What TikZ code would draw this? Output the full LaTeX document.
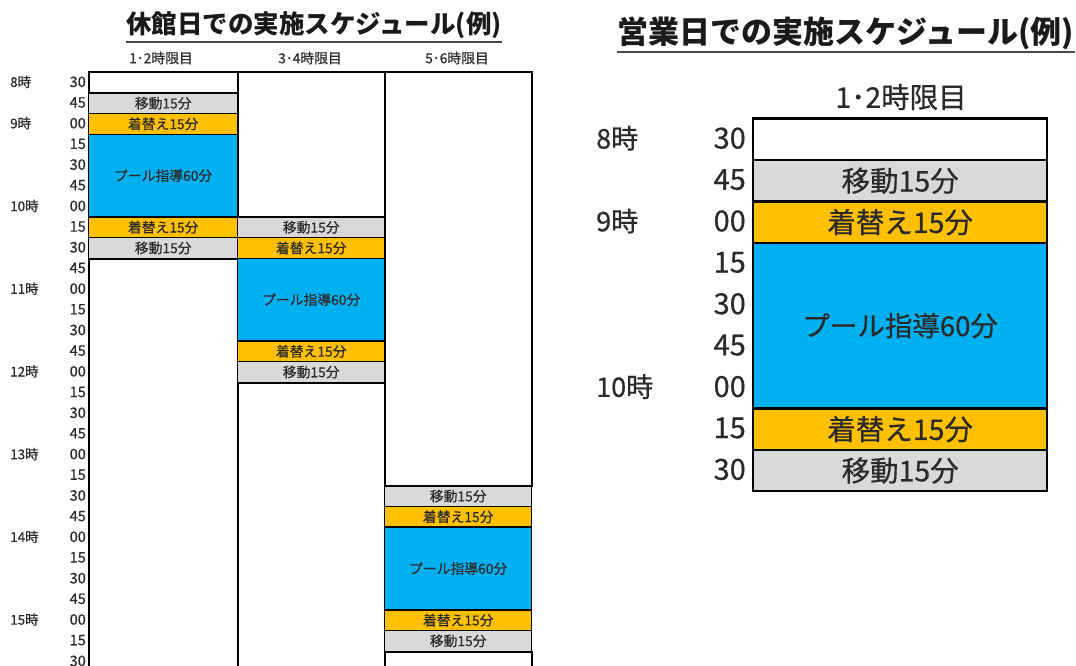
\documentclass[tikz,border=0pt]{standalone}
\usepackage{fontspec}
\setmainfont{Noto Sans CJK JP}
\newfontfamily\jpheavy{Noto Sans CJK JP}[FakeBold=0.5]
\definecolor{cgray}{HTML}{D9D9D9}
\definecolor{corange}{HTML}{FFC000}
\definecolor{cblue}{HTML}{00B0F0}
\definecolor{ctext}{HTML}{2A2A2A}
\definecolor{ctitle}{HTML}{1A1A1A}
\tikzset{
  cellbox/.style={draw=black, line width=1.4pt, inner sep=0pt, anchor=north west, text=ctext},
  whitebox/.style={cellbox, fill=white, line width=2pt},
  graybox/.style={cellbox, fill=cgray},
  orangebox/.style={cellbox, fill=corange},
  bluebox/.style={cellbox, fill=cblue},
  rthick/.style={line width=2.3pt},
  lfont/.style={font=\jpheavy\fontsize{13.8}{13.8}\selectfont},
  rfont/.style={font=\jpheavy\fontsize{28.5}{28.5}\selectfont},
  lminute/.style={font=\jpheavy\fontsize{14.5}{14.5}\selectfont, text=ctext, anchor=east, inner sep=0pt},
  lhour/.style={font=\jpheavy\fontsize{13.5}{13.5}\selectfont, text=ctext, anchor=west, inner sep=0pt},
  rminute/.style={font=\jpheavy\fontsize{29}{29}\selectfont, text=ctext, anchor=east, inner sep=0pt},
  rhour/.style={font=\jpheavy\fontsize{27}{27}\selectfont, text=ctext, anchor=west, inner sep=0pt},
  titlestyle/.style={text=ctitle, inner sep=0pt},
  uline/.style={line width=2pt, draw=ctitle!80}
}
\newcommand\lcell[7]{%
  \pgfmathsetmacro\ytop{71.5+#4*20.68}\pgfmathsetmacro\hgt{#5*20.68}%
  \node[#6, lfont, minimum width=#3pt, minimum height=\hgt pt] (#1) at (#2,\ytop) {#7};}
\newcommand\rcell[7]{%
  \pgfmathsetmacro\ytop{117.5+#4*41.4}\pgfmathsetmacro\hgt{#5*41.4}%
  \node[#6, rthick, rfont, minimum width=#3pt, minimum height=\hgt pt] (#1) at (#2,\ytop) {#7};}
\begin{document}
\begin{tikzpicture}[x=1pt,y=-1pt]
\useasboundingbox[fill=white] (0,0) rectangle (1076,666);
% titles
\node[titlestyle, font=\fontsize{25.5}{25.5}\selectfont\bfseries] (t1) at (314,25) {休館日での実施スケジュール(例)};
\draw[uline] ([yshift=-3pt]t1.south west) -- ([yshift=-3pt]t1.south east);
\node[titlestyle, font=\fontsize{31}{31}\selectfont\bfseries] (t2) at (846,33) {営業日での実施スケジュール(例)};
\draw[uline] ([yshift=-2pt]t2.south west) -- ([yshift=-2pt]t2.south east);
% left headers
\node[lfont, text=ctext] (hA) at (161,58) {1･2時限目};
\node[lfont, text=ctext] (hB) at (310,58) {3･4時限目};
\node[lfont, text=ctext] (hC) at (457,58) {5･6時限目};
% left column 1
\lcell{a1}{88}{149}{0}{1}{whitebox}{}
\lcell{a2}{88}{149}{1}{1}{graybox}{移動15分}
\lcell{a3}{88}{149}{2}{1}{orangebox}{着替え15分}
\lcell{a4}{88}{149}{3}{4}{bluebox}{プール指導60分}
\lcell{a5}{88}{149}{7}{1}{orangebox}{着替え15分}
\lcell{a6}{88}{149}{8}{1}{graybox}{移動15分}
\lcell{a7}{88}{149}{9}{22}{whitebox}{}
% left column 2
\lcell{b1}{237}{147}{0}{7}{whitebox}{}
\lcell{b2}{237}{147}{7}{1}{graybox}{移動15分}
\lcell{b3}{237}{147}{8}{1}{orangebox}{着替え15分}
\lcell{b4}{237}{147}{9}{4}{bluebox}{プール指導60分}
\lcell{b5}{237}{147}{13}{1}{orangebox}{着替え15分}
\lcell{b6}{237}{147}{14}{1}{graybox}{移動15分}
\lcell{b7}{237}{147}{15}{16}{whitebox}{}
% left column 3
\lcell{c1}{384}{147}{0}{20}{whitebox}{}
\lcell{c2}{384}{147}{20}{1}{graybox}{移動15分}
\lcell{c3}{384}{147}{21}{1}{orangebox}{着替え15分}
\lcell{c4}{384}{147}{22}{4}{bluebox}{プール指導60分}
\lcell{c5}{384}{147}{26}{1}{orangebox}{着替え15分}
\lcell{c6}{384}{147}{27}{1}{graybox}{移動15分}
\lcell{c7}{384}{147}{28}{3}{whitebox}{}
% left minute labels
\foreach \m [count=\i from 0] in {30,45,00,15,30,45,00,15,30,45,00,15,30,45,00,15,30,45,00,15,30,45,00,15,30,45,00,15,30}{
  \pgfmathsetmacro\yy{71.5+(\i+0.5)*20.68}
  \node[lminute] (lm\i) at (86,\yy) {\m};
}
% left hour labels
\foreach \h/\r in {8/0,9/2,10/6,11/10,12/14,13/18,14/22,15/26}{
  \pgfmathsetmacro\yy{71.5+(\r+0.5)*20.68}
  \node[lhour] (lh\h) at (10,\yy) {\h 時};
}
% right table
\node[rfont, text=ctext] (hR) at (901,97) {1･2時限目};
\rcell{r1}{752}{294}{0}{1}{whitebox}{}
\rcell{r2}{752}{294}{1}{1}{graybox}{移動15分}
\rcell{r3}{752}{294}{2}{1}{orangebox}{着替え15分}
\rcell{r4}{752}{294}{3}{4}{bluebox}{\fontsize{27.5}{27.5}\selectfont プール指導60分}
\rcell{r5}{752}{294}{7}{1}{orangebox}{着替え15分}
\rcell{r6}{752}{294}{8}{1}{graybox}{移動15分}
\foreach \m [count=\i from 0] in {30,45,00,15,30,45,00,15,30}{
  \pgfmathsetmacro\yy{117.5+(\i+0.5)*41.4}
  \node[rminute] (rm\i) at (746,\yy) {\m};
}
\foreach \h/\r in {8/0,9/2,10/6}{
  \pgfmathsetmacro\yy{117.5+(\r+0.5)*41.4}
  \node[rhour] (rh\h) at (596,\yy) {\h 時};
}
\end{tikzpicture}
\end{document}
